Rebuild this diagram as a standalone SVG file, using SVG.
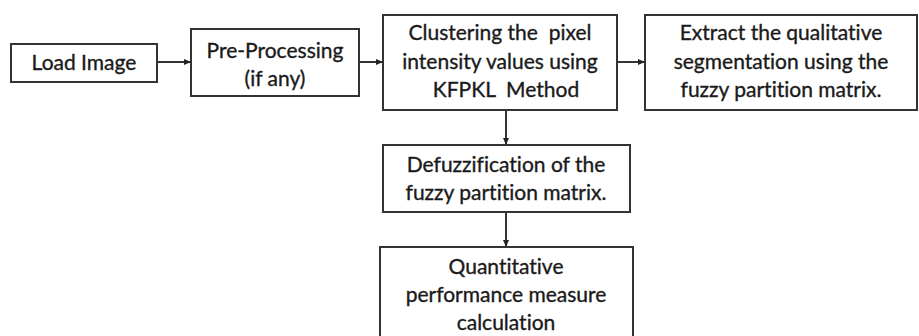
<svg xmlns="http://www.w3.org/2000/svg" width="919" height="336" viewBox="0 0 919 336">
<style>
.box{fill:#fff;stroke:#333;stroke-width:2}
.t{font-family:Lato,"Open Sans",sans-serif;font-size:21px;fill:#1a1a1a;stroke:#1a1a1a;stroke-width:0.35;text-anchor:middle;font-variant-ligatures:none}
.c{stroke:#333;stroke-width:2;fill:none}
</style>
<defs>
<marker id="ah" markerWidth="8" markerHeight="8" refX="6" refY="4" orient="auto" markerUnits="userSpaceOnUse">
<path d="M0,1 L7,4 L0,7 Z" fill="#222"/>
</marker>
</defs>
<rect width="919" height="336" fill="#fff"/>
<g id="connectors">
<line class="c" x1="157" y1="62" x2="190" y2="62" marker-end="url(#ah)"/>
<line class="c" x1="359" y1="62" x2="382" y2="62" marker-end="url(#ah)"/>
<line class="c" x1="617" y1="62" x2="644" y2="62" marker-end="url(#ah)"/>
<line class="c" x1="506" y1="110" x2="506" y2="144" marker-end="url(#ah)"/>
<line class="c" x1="506" y1="212" x2="506" y2="246" marker-end="url(#ah)"/>
</g>
<g id="load">
<rect class="box" x="11" y="44" width="146" height="38"/>
<text class="t" x="84" y="70">Load Image</text>
</g>
<g id="pre">
<rect class="box" x="191" y="29" width="168" height="67"/>
<text class="t" x="275" y="58">Pre-Processing</text>
<text class="t" x="275" y="86">(if any)</text>
</g>
<g id="cluster">
<rect class="box" x="383" y="15" width="234" height="95"/>
<text class="t" x="500" y="40" xml:space="preserve">Clustering the  pixel</text>
<text class="t" x="500" y="69">intensity values using</text>
<text class="t" x="506" y="97" xml:space="preserve">KFPKL  Method</text>
</g>
<g id="extract">
<rect class="box" x="645" y="15" width="272" height="95"/>
<text class="t" x="781" y="40">Extract the qualitative</text>
<text class="t" x="781" y="69">segmentation using the</text>
<text class="t" x="781" y="97">fuzzy partition matrix.</text>
</g>
<g id="defuzz">
<rect class="box" x="383" y="145" width="247" height="67"/>
<text class="t" x="506" y="172">Defuzzification of the</text>
<text class="t" x="506" y="200">fuzzy partition matrix.</text>
</g>
<g id="quant">
<rect class="box" x="380" y="247" width="253" height="100"/>
<text class="t" x="506" y="274">Quantitative</text>
<text class="t" x="506" y="302">performance measure</text>
<text class="t" x="506" y="330">calculation</text>
</g>
</svg>
